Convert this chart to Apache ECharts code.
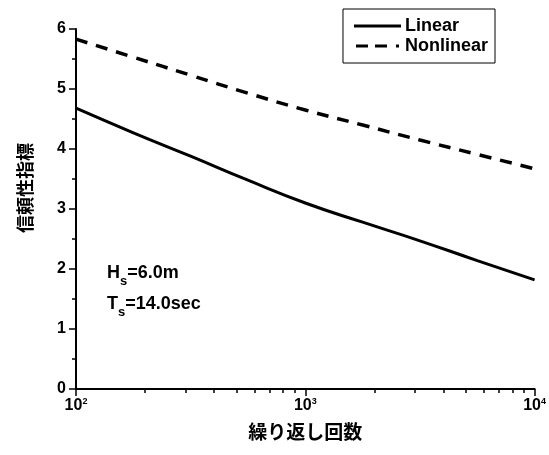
<!DOCTYPE html>
<html><head><meta charset="utf-8">
<script src="https://cdn.jsdelivr.net/npm/echarts@6/dist/echarts.min.js"></script>
<style>html,body{margin:0;padding:0;background:#fff}#c{width:549px;height:455px}</style>
</head><body><div id="c"></div>
<script>
const repeats = [100, 178, 316, 562, 1000, 1778, 3162, 5623, 10000];
const linear = [4.68, 4.27, 3.88, 3.48, 3.10, 2.78, 2.47, 2.14, 1.82];
const nonlinear = [5.83, 5.53, 5.23, 4.93, 4.65, 4.40, 4.15, 3.91, 3.67];
const xMajorTicks = [100, 1000, 10000];
const xMinorTicks = [200, 300, 400, 500, 600, 700, 800, 900, 2000, 3000, 4000, 5000, 6000, 7000, 8000, 9000];
const seriesNames = ['Linear', 'Nonlinear'];
const xName = '繰り返し回数';
const yName = '信頼性指標';
const noteLines = [['H', 's', '=6.0m'], ['T', 's', '=14.0sec']];

const FF = "'Liberation Sans', Arial, sans-serif";
const CJK = "'Noto Sans CJK JP', sans-serif";
const chart = echarts.init(document.getElementById('c'), null, {renderer: 'canvas'});
const pairs = arr => repeats.map((r, i) => [r, arr[i]]);

chart.setOption({
  animation: false,
  backgroundColor: '#fff',
  grid: {left: 76, right: 14, top: 29, bottom: 66},
  legend: {
    orient: 'vertical', right: 54, top: 9,
    data: [
      {name: seriesNames[0], icon: 'path://M0,0h47v3h-47z'},
      {name: seriesNames[1], icon: 'path://M0,0h12v3h-12z M19,0h12v3h-12z M40,0h3v3h-3z'}
    ],
    borderColor: '#000', borderWidth: 1, borderRadius: 0,
    padding: [8, 7, 8, 11], itemGap: 2, itemWidth: 47, itemHeight: 3,
    itemStyle: {color: '#000'},
    textStyle: {fontFamily: FF, fontWeight: 'bold', fontSize: 18, color: '#000', padding: [0, 0, 0, -1]}
  },
  xAxis: [{
    type: 'log', logBase: 10, min: 100, max: 10000,
    name: xName, nameLocation: 'middle', nameGap: 33,
    nameTextStyle: {fontFamily: CJK, fontWeight: 'bold', fontSize: 19, color: '#000'},
    axisLine: {show: true, lineStyle: {color: '#000', width: 2}},
    axisTick: {show: true, customValues: xMajorTicks, length: 7, lineStyle: {color: '#000', width: 1.5}},
    axisLabel: {
      customValues: xMajorTicks, margin: 8,
      formatter: v => '{a|10}{b|' + Math.round(Math.log10(v)) + '}',
      rich: {
        a: {fontFamily: FF, fontWeight: 'bold', fontSize: 16, color: '#000'},
        b: {fontFamily: FF, fontWeight: 'bold', fontSize: 9, color: '#000', padding: [0, 0, 8, 0]}
      }
    },
    splitLine: {show: false}
  }, {
    type: 'log', logBase: 10, min: 100, max: 10000, position: 'bottom',
    axisLine: {show: false},
    axisTick: {show: true, customValues: xMinorTicks, length: 4, lineStyle: {color: '#000', width: 1.5}},
    axisLabel: {show: false},
    splitLine: {show: false}
  }],
  yAxis: {
    type: 'value', min: 0, max: 6, interval: 1,
    axisLine: {show: true, lineStyle: {color: '#000', width: 2}},
    axisTick: {show: true, length: 7, lineStyle: {color: '#000', width: 1.5}},
    minorTick: {show: true, splitNumber: 2, length: 4, lineStyle: {color: '#000', width: 1.5}},
    axisLabel: {fontFamily: FF, fontWeight: 'bold', fontSize: 16, color: '#000', margin: 10},
    splitLine: {show: false}
  },
  graphic: [{
    type: 'text', x: 25, y: 188, rotation: Math.PI / 2,
    style: {text: yName, font: "bold 18px " + CJK, fill: '#000', align: 'center', verticalAlign: 'middle'}
  }, {
    type: 'text', left: 107, top: 259,
    style: {
      text: noteLines.map(l => '{n|' + l[0] + '}{s|' + l[1] + '}{n|' + l[2] + '}').join('\n'),
      rich: {
        n: {fontFamily: FF, fontWeight: 'bold', fontSize: 18, color: '#000', lineHeight: 31},
        s: {fontFamily: FF, fontWeight: 'bold', fontSize: 13, color: '#000', padding: [16, 0, 0, 0], lineHeight: 31}
      }
    }
  }],
  series: [{
    name: seriesNames[0], type: 'line', smooth: true, symbol: 'none',
    data: pairs(linear),
    lineStyle: {color: '#000', width: 3}, itemStyle: {color: '#000'}
  }, {
    name: seriesNames[1], type: 'line', smooth: true, symbol: 'none',
    data: pairs(nonlinear),
    lineStyle: {color: '#000', width: 3.5, type: [12, 9]}, itemStyle: {color: '#000'}
  }]
});
</script></body></html>
